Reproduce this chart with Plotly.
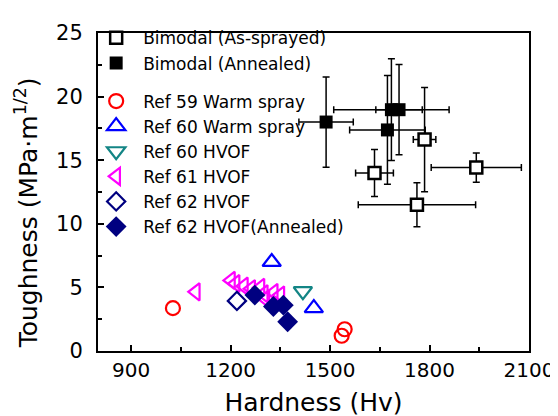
import plotly.graph_objects as go

# ---- data ----
as_sprayed_h = [1634, 1785, 1941, 1762]
as_sprayed_t = [13.99, 16.62, 14.42, 11.5]
as_sprayed_herr = [57, 34, 136, 177]
as_sprayed_terr = [1.85, 4.1, 1.15, 1.73]

annealed_h = [1488, 1685, 1708, 1673]
annealed_t = [18.0, 18.97, 18.97, 17.38]
annealed_herr = [82, 174, 70, 114]
annealed_terr = [3.55, 4.0, 3.55, 4.28]

ref59_h = [1026, 1544, 1535]
ref59_t = [3.37, 1.71, 1.2]

ref60w_h = [1324, 1451]
ref60w_t = [7.0, 3.37]

ref60h_h = [1418]
ref60h_t = [4.7]

ref61_h = [1095, 1201, 1215, 1240, 1262, 1290, 1300, 1330, 1350, 1305]
ref61_t = [4.65, 5.55, 5.3, 5.1, 4.9, 5.0, 4.5, 4.6, 4.4, 4.1]

ref62_h = [1219]
ref62_t = [3.94]

ref62a_h = [1273, 1329, 1359, 1372]
ref62a_t = [4.4, 3.5, 3.6, 2.3]

x_ticks = [900, 1200, 1500, 1800, 2100]
y_ticks = [0, 5, 10, 15, 20, 25]

FONT = "DejaVu Sans, Arial, sans-serif"

fig = go.Figure()

eb = dict(type="data", color="black", thickness=1.5, width=3.5)

fig.add_trace(go.Scatter(
    x=as_sprayed_h, y=as_sprayed_t, mode="markers", name="Bimodal (As-sprayed)",
    legendgroup="a",
    marker=dict(symbol="square", size=12, color="white", line=dict(color="black", width=2.5)),
    error_x=dict(array=as_sprayed_herr, **eb),
    error_y=dict(array=as_sprayed_terr, **eb),
))
fig.add_trace(go.Scatter(
    x=annealed_h, y=annealed_t, mode="markers", name="Bimodal (Annealed)",
    legendgroup="a",
    marker=dict(symbol="square", size=13, color="black", line=dict(color="black", width=0)),
    error_x=dict(array=annealed_herr, **eb),
    error_y=dict(array=annealed_terr, **eb),
))
fig.add_trace(go.Scatter(
    x=ref59_h, y=ref59_t, mode="markers", name="Ref 59 Warm spray", legendgroup="b",
    marker=dict(symbol="circle-open", size=14, color="#FF0000", line=dict(width=2.2)),
))
fig.add_trace(go.Scatter(
    x=ref60w_h, y=ref60w_t, mode="markers", name="Ref 60 Warm spray", legendgroup="b",
    marker=dict(symbol="triangle-up-open", size=16, color="#0000FF", line=dict(width=2.2)),
))
fig.add_trace(go.Scatter(
    x=ref60h_h, y=ref60h_t, mode="markers", name="Ref 60 HVOF", legendgroup="b",
    marker=dict(symbol="triangle-down-open", size=16, color="#138585", line=dict(width=2.2)),
))
fig.add_trace(go.Scatter(
    x=ref61_h, y=ref61_t, mode="markers", name="Ref 61 HVOF", legendgroup="b",
    marker=dict(symbol="triangle-left-open", size=15, color="#FF00FF", line=dict(width=2.2)),
))
fig.add_trace(go.Scatter(
    x=ref62_h, y=ref62_t, mode="markers", name="Ref 62 HVOF", legendgroup="b",
    marker=dict(symbol="diamond-open", size=14, color="#000080", line=dict(width=2.2)),
))
fig.add_trace(go.Scatter(
    x=ref62a_h, y=ref62a_t, mode="markers", name="Ref 62 HVOF(Annealed)", legendgroup="b",
    marker=dict(symbol="diamond", size=16, color="#000080", line=dict(width=0)),
))

fig.update_layout(
    width=558, height=416,
    margin=dict(l=90, r=30, t=25, b=65),
    paper_bgcolor="white", plot_bgcolor="white",
    font=dict(family=FONT, color="black", size=20),
    showlegend=True,
    legend=dict(
        x=-0.0205, y=1.040, xanchor="left", yanchor="top",
        bgcolor="rgba(0,0,0,0)", borderwidth=0,
        font=dict(size=17, family=FONT),
        traceorder="grouped", tracegroupgap=13,
        itemwidth=44, maxheight=400,
    ),
    xaxis=dict(
        range=[800, 2100], tickvals=x_ticks, ticktext=[str(v) for v in x_ticks],
        ticks="inside", ticklen=6, tickwidth=1.5, tickcolor="black",
        minor=dict(ticks="inside", ticklen=4, tickwidth=1.5, tickcolor="black", tick0=900, dtick=150),
        showline=True, linecolor="black", linewidth=2, mirror=True,
        showgrid=False, zeroline=False,
        tickfont=dict(size=20),
        title=dict(text="Hardness (Hv)", font=dict(size=25), standoff=12),
    ),
    yaxis=dict(
        range=[0, 25], tickvals=y_ticks, ticktext=[str(v) for v in y_ticks],
        ticks="inside", ticklen=6, tickwidth=1.5, tickcolor="black",
        minor=dict(ticks="inside", ticklen=4, tickwidth=1.5, tickcolor="black", tick0=0, dtick=2.5),
        showline=True, linecolor="black", linewidth=2, mirror=True,
        showgrid=False, zeroline=False,
        tickfont=dict(size=21), ticklabelstandoff=9,
    ),
    annotations=[dict(
        text="Toughness (MPa·m<sup>1/2</sup>)", textangle=-90,
        xref="paper", yref="paper", x=-0.165, y=0.4356,
        xanchor="center", yanchor="middle", showarrow=False,
        font=dict(size=25, family=FONT, color="black"),
    )],
)

fig.write_html("out.html")
